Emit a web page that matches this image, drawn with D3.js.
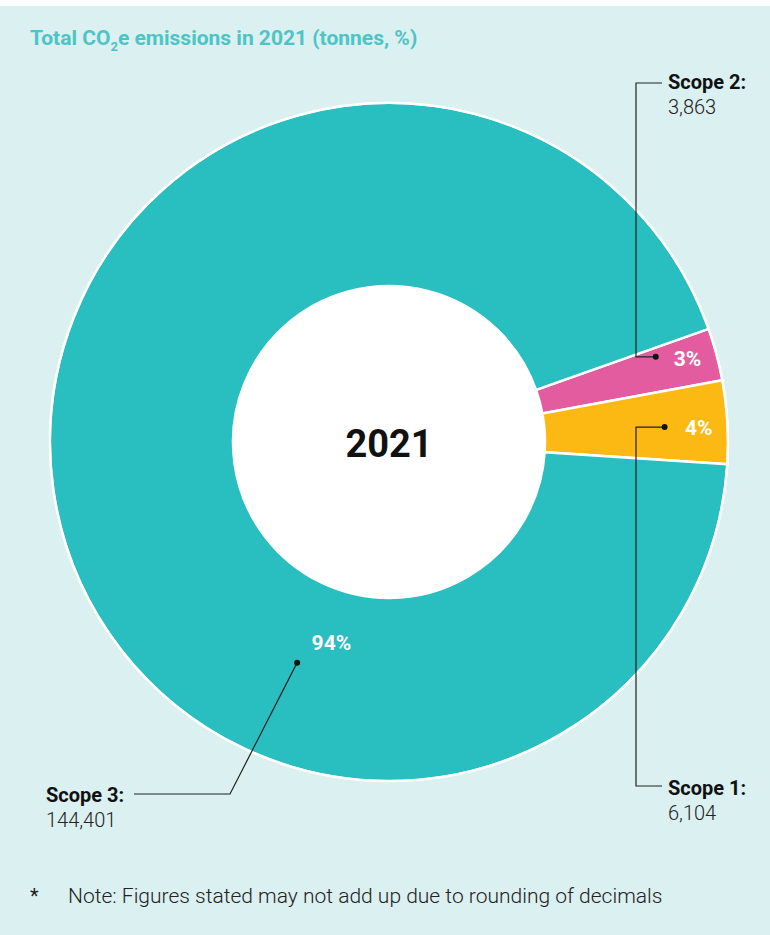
<!DOCTYPE html>
<html>
<head>
<meta charset="utf-8">
<script src="https://cdn.jsdelivr.net/npm/d3@7"></script>
<style>
  body { margin: 0; background: #fff; }
  text { font-family: Roboto, "DejaVu Sans", sans-serif; }
</style>
</head>
<body>
<div id="chart"></div>
<script>
  // data (tonnes)
  const scopes = ['Scope 2', 'Scope 1', 'Scope 3']
  const tonnes = [3863, 6104, 144401]
  const shares = ['3%', '4%', '94%']
  const colors = ['#e35ca0', '#fdb913', '#29bec0']

  const width = 770
  const height = 935
  const cx = 389, cy = 442
  const outer = 339, inner = 156

  const svg = d3.select('#chart').append('svg')
    .attr('width', width)
    .attr('height', height)

  svg.append('rect')
    .attr('x', 0).attr('y', 6)
    .attr('width', width).attr('height', height - 6)
    .attr('fill', '#dbf0f0')

  // title with subscript 2
  const title = svg.append('text')
    .attr('x', 30).attr('y', 45)
    .attr('fill', '#4dc4c6')
    .style('font-size', '21px')
    .style('font-weight', 700)
  title.append('tspan').text('Total CO')
  title.append('tspan').attr('dy', 6).style('font-size', '13px').text('2')
  title.append('tspan').attr('dy', -6).text('e emissions in 2021 (tonnes, %)')

  const deg = Math.PI / 180
  const pie = d3.pie().sort(null)
    .startAngle(70.5 * deg)
    .endAngle(430.5 * deg)
  const arcs = pie(tonnes)

  const arc = d3.arc().innerRadius(inner).outerRadius(outer)

  const g = svg.append('g').attr('transform', `translate(${cx},${cy})`)

  g.selectAll('path')
    .data(arcs)
    .enter().append('path')
    .attr('d', arc)
    .attr('fill', (d, i) => colors[i])
    .attr('stroke', '#fff')
    .attr('stroke-width', 2.5)

  // outer white ring edge
  g.append('circle').attr('r', outer).attr('fill', 'none').attr('stroke', '#fff').attr('stroke-width', 2)
  g.append('circle').attr('r', inner).attr('fill', '#fff')

  g.append('text')
    .attr('text-anchor', 'middle')
    .attr('y', 15)
    .style('font-size', '38px')
    .style('font-weight', 700)
    .attr('fill', '#111')
    .text('2021')

  // label positions: share text angle/radius and leader dot angle/radius
  const labelPos = [
    { a: 74.3, r: 310, da: 72.3, dr: 280 },
    { a: 87.4, r: 310, da: 86.9, dr: 276 },
    { a: 196, r: 209, da: 202.6, dr: 239 }
  ]
  const polar = (a, r) => [r * Math.sin(a * deg), -r * Math.cos(a * deg)]

  g.selectAll('.share')
    .data(arcs)
    .enter().append('text')
    .attr('class', 'share')
    .attr('text-anchor', 'middle')
    .attr('dy', '0.36em')
    .attr('transform', (d, i) => `translate(${polar(labelPos[i].a, labelPos[i].r)})`)
    .attr('fill', '#fff')
    .style('font-size', '21px')
    .style('font-weight', 700)
    .text((d, i) => shares[i])

  // leader lines, in page coordinates
  const dots = labelPos.map(p => { const q = polar(p.da, p.dr); return [q[0] + cx, q[1] + cy] })
  const leaders = [
    [[662, 83], [636, 83], [636, dots[0][1]], dots[0]],
    [[662, 786], [636, 786], [636, dots[1][1]], dots[1]],
    [[134, 794], [230, 794], dots[2]]
  ]
  svg.selectAll('.leader')
    .data(leaders)
    .enter().append('path')
    .attr('class', 'leader')
    .attr('d', d3.line())
    .attr('fill', 'none')
    .attr('stroke', '#222')
    .attr('stroke-width', 1.2)

  svg.selectAll('.dot')
    .data(dots)
    .enter().append('circle')
    .attr('class', 'dot')
    .attr('cx', d => d[0]).attr('cy', d => d[1])
    .attr('r', 3)
    .attr('fill', '#111')

  // scope name + tonnes
  const callouts = [
    { x: 668, y: 89 },
    { x: 668, y: 795 },
    { x: 46, y: 802 }
  ]
  const fmt = d3.format(',')
  callouts.forEach((c, i) => {
    svg.append('text')
      .attr('x', c.x).attr('y', c.y)
      .attr('fill', '#111')
      .style('font-size', '20px')
      .style('font-weight', 700)
      .text(scopes[i] + ':')
    svg.append('text')
      .attr('x', c.x).attr('y', c.y + 25)
      .attr('fill', '#222')
      .style('font-size', '20px')
      .style('font-weight', 300)
      .text(fmt(tonnes[i]))
  })

  svg.append('text')
    .attr('x', 30).attr('y', 903)
    .attr('fill', '#222')
    .style('font-size', '20px')
    .text('*')
  svg.append('text')
    .attr('x', 68).attr('y', 903)
    .attr('fill', '#222')
    .style('font-size', '21px')
    .style('font-weight', 300)
    .text('Note: Figures stated may not add up due to rounding of decimals')
</script>
</body>
</html>
